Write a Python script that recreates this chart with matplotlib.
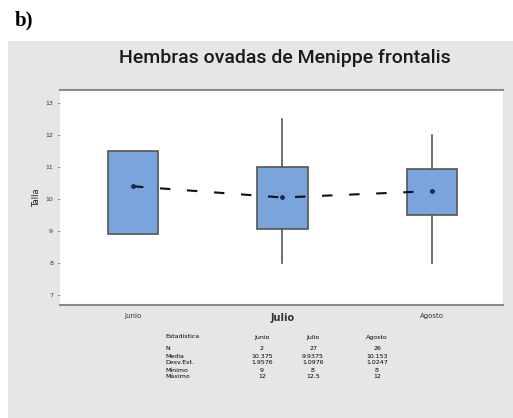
import matplotlib
matplotlib.use("Agg")
import matplotlib.pyplot as plt
from matplotlib.patches import Rectangle

# ---- data ----
months = ["Junio", "Julio", "Agosto"]
q1 = [8.9, 9.05, 9.5]
q3 = [11.5, 11.0, 10.95]
medians = [10.4, 10.05, 9.5]
whisk_lo = [8.9, 8.0, 8.0]
whisk_hi = [11.5, 12.5, 12.0]
means = [10.4, 10.05, 10.25]
yticks = [7, 8, 9, 10, 11, 12, 13]

stat_rows = ["N", "Media", "Desv.Est.", "Mínimo", "Máximo"]
stat_header = "Estadística"
stat_N = ["2", "27", "26"]
stat_media = ["10.375", "9.9375", "10.153"]
stat_de = ["1.9576", "1.0976", "1.0247"]
stat_min = ["9", "8", "8"]
stat_max = ["12", "12.5", "12"]

W, H = 513, 418
fig = plt.figure(figsize=(W / 100, H / 100), dpi=100)
fig.patch.set_facecolor("white")

# grey panel
fig.patches.append(Rectangle((8 / W, 0), 1 - 8 / W, (H - 41) / H,
                             transform=fig.transFigure, facecolor="#e6e6e6",
                             edgecolor="none", zorder=-5))

fig.text(15 / W, 1 - 20 / H, "b)", family="Liberation Serif", weight="bold",
         fontsize=15, va="center", ha="left")
fig.text(285 / W, 1 - 58 / H, "Hembras ovadas de Menippe frontalis",
         family="Roboto", weight="medium", fontsize=14, ha="center",
         va="center", color="#1a1a1a")

ax = fig.add_axes([60 / W, (H - 305) / H, 443 / W, 215 / H])
ax.set_zorder(2)
ax.set_facecolor("white")

stats = []
for i in range(3):
    stats.append(dict(med=medians[i], q1=q1[i], q3=q3[i], whislo=whisk_lo[i],
                      whishi=whisk_hi[i], mean=means[i], fliers=[],
                      label=months[i]))
ax.bxp(stats, positions=[1, 2, 3], widths=0.335, patch_artist=True,
       showcaps=False, showmeans=False,
       boxprops=dict(facecolor="#7aa5dc", edgecolor="#555555", linewidth=1.2),
       whiskerprops=dict(color="#555555", linewidth=1.2),
       medianprops=dict(linewidth=0))

ax.plot([1, 2, 3], means, color="#111111", linestyle=(0, (5, 8)), linewidth=1.5,
        zorder=5)
ax.plot([1, 2, 3], means, linestyle="none", marker="o", markersize=2.5,
        color="#1a2a5a", zorder=6)

ax.set_xlim(0.512, 3.475)
ax.set_ylim(6.69, 13.41)
ax.set_yticks(yticks)
ax.set_yticklabels([str(v) for v in yticks], fontsize=4.5, color="#333333")
ax.tick_params(axis="y", length=2, width=0.5, pad=3, colors="#777777",
               labelcolor="#333333")
ax.set_xticks([1, 2, 3])
ax.set_xticklabels(months, fontsize=5, color="#333333")
for lab in ax.get_xticklabels():
    if lab.get_text() == "Julio":
        lab.set_fontsize(7)
        lab.set_fontweight("bold")
ax.tick_params(axis="x", length=0, pad=6)
for s in ["left", "right"]:
    ax.spines[s].set_visible(False)
for s in ["top", "bottom"]:
    ax.spines[s].set_color("#8a8a8a")
    ax.spines[s].set_linewidth(1.5)
ax.set_ylabel("Talla", fontsize=6, color="#222222", labelpad=3)

# statistics table
col_x = [165, 262, 313, 377]
row_y0 = 337
fig.text(col_x[0] / W, 1 - row_y0 / H, stat_header, fontsize=4.5,
         va="center", ha="left")
for j, m in enumerate(months):
    fig.text(col_x[j + 1] / W, 1 - row_y0 / H, m, fontsize=4.5,
             va="center", ha="center")
rows = [stat_N, stat_media, stat_de, stat_min, stat_max]
for i, name in enumerate(stat_rows):
    y = 1 - (349 + 7 * i) / H
    fig.text(col_x[0] / W, y, name, fontsize=4.5, va="center", ha="left")
    for j in range(3):
        fig.text(col_x[j + 1] / W, y, rows[i][j], fontsize=4.5,
                 va="center", ha="center")

fig.savefig("out.png", dpi=100)
